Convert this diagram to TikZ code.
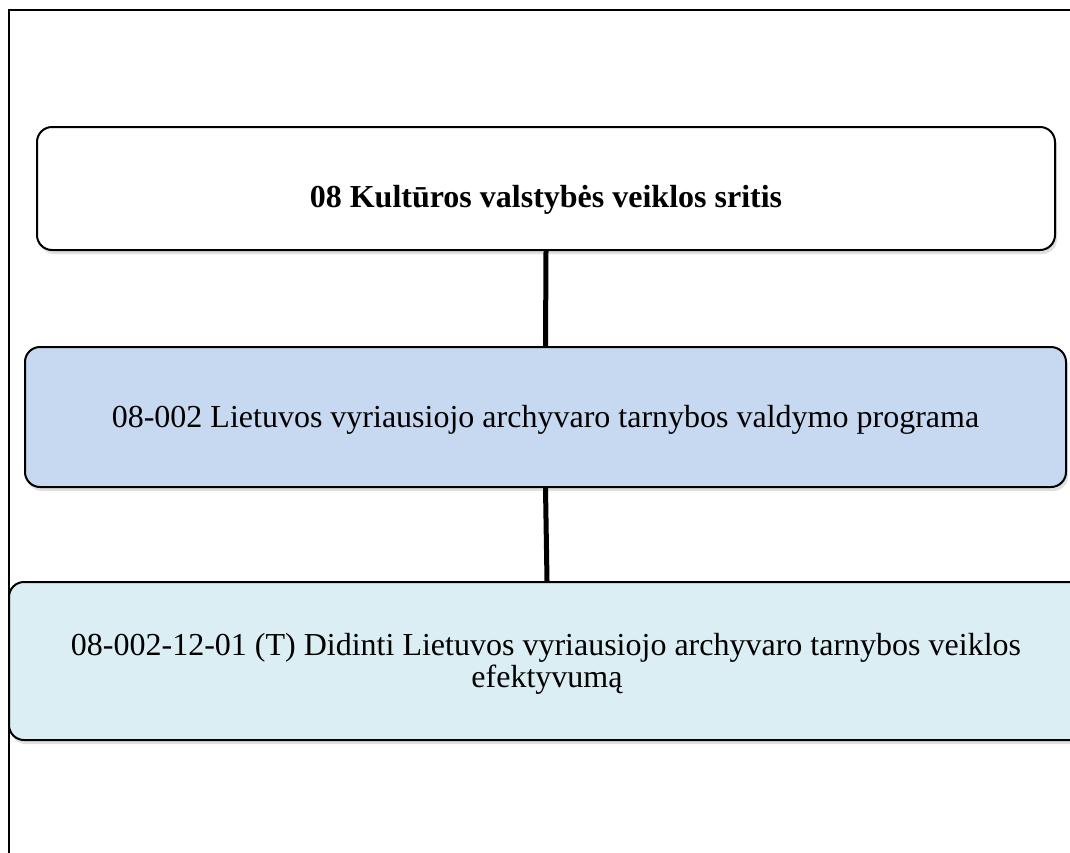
\documentclass[tikz,border=0pt]{standalone}
\usepackage{fontspec}
\setmainfont{Liberation Serif}
\usetikzlibrary{shadows}
\definecolor{progblue}{HTML}{C6D9F1}
\definecolor{goalblue}{HTML}{DBEEF4}
\tikzset{
  box/.style={draw=black, line width=2pt, rounded corners=15pt, inner sep=0pt,
    drop shadow={opacity=0.25, shadow xshift=2pt, shadow yshift=-4pt}},
  boxtext/.style={align=center, inner sep=0pt, font=\fontsize{32}{32}\selectfont},
  link/.style={line width=5pt, draw=black},
  frame/.style={line width=1.5pt, draw=black}
}
\begin{document}
\begin{tikzpicture}[x=1pt,y=-1pt]
\useasboundingbox (0,0) rectangle (1070,852);
\clip (0,0) rectangle (1070,852);
\fill[white] (0,0) rectangle (1070,852);
\coordinate (ftop) at (1075,10);
\coordinate (fcorner) at (9,10);
\coordinate (fbottom) at (9,860);
\draw[frame] (ftop) -- (fcorner) -- (fbottom);
\node[box, fill=white, minimum width=1018pt, minimum height=123pt] (area) at (546,188.5) {};
\node[box, fill=progblue, minimum width=1041pt, minimum height=140pt] (prog) at (545.5,417) {};
\node[box, fill=goalblue, minimum width=1076pt, minimum height=158pt] (goal) at (547,661) {};
\node[boxtext, anchor=base, font=\fontsize{32}{32}\selectfont\bfseries] (areatext) at (546,207)
  {08 Kultūros valstybės veiklos sritis};
\node[boxtext, anchor=base] (progtext) at (545.5,427)
  {08-002 Lietuvos vyriausiojo archyvaro tarnybos valdymo programa};
\node[boxtext, anchor=base] (goaltext1) at (546,655)
  {08-002-12-01 (T) Didinti Lietuvos vyriausiojo archyvaro tarnybos veiklos};
\node[boxtext, anchor=base] (goaltext2) at (547,687) {efektyvumą};
\draw[link] (area.south) -- (prog.north);
\draw[link] (prog.south) -- (goal.north);
\end{tikzpicture}
\end{document}
